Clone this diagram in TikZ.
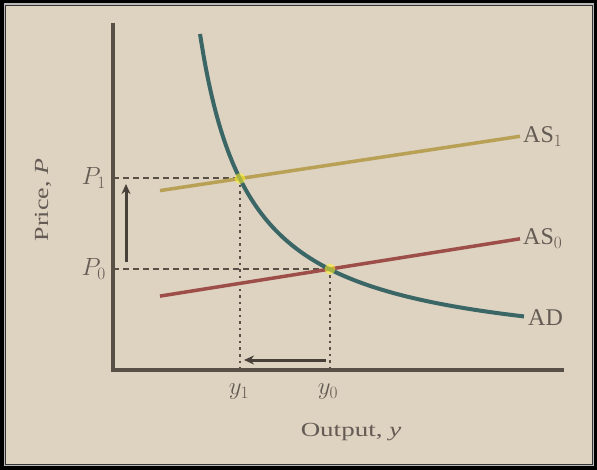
\documentclass[tikz,border=0pt]{standalone}
\usepackage{fontspec}
\setmainfont{Liberation Serif}
\usepackage{graphicx}
\usetikzlibrary{arrows.meta}
\definecolor{bg}{RGB}{222,210,193}
\definecolor{axisc}{RGB}{88,80,70}
\definecolor{adc}{RGB}{58,102,102}
\definecolor{asonec}{RGB}{184,160,84}
\definecolor{aszeroc}{RGB}{158,78,72}
\definecolor{txt}{RGB}{100,92,84}
\tikzset{
  axisline/.style={draw=axisc, line width=3.5pt},
  guide/.style={draw=axisc, line width=2pt, dash pattern=on 6pt off 4pt},
  dotguide/.style={draw=axisc, line width=2.2pt, dash pattern=on 2.5pt off 4pt},
  lbl/.style={text=txt, font=\fontsize{24}{26}\selectfont, inner sep=0pt},
  shiftarrow/.style={draw=axisc!80!black, line width=3pt, -{Stealth[length=10pt,width=9pt]}},
  eqglow/.style={circle, fill=yellow!85!white, opacity=0.55, minimum size=11pt, inner sep=0pt},
}
\begin{document}
\begin{tikzpicture}[x=1pt,y=-1pt]
\useasboundingbox (0,0) rectangle (597,470);
% frame
\fill[black] (0,0) rectangle (597,470);
\fill[gray!55] (3.5,3.5) rectangle (594,466);
\fill[black!80] (5,5) rectangle (592.5,464.5);
\fill[bg] (6,6) rectangle (591.5,463.5);
% key points
\coordinate (O) at (113,370);
\coordinate (ytop) at (113,23);
\coordinate (xend) at (564,370);
\coordinate (E1) at (240,178.5);
\coordinate (E0) at (330,269);
\coordinate (P1pt) at (113,178.5);
\coordinate (P0pt) at (113,269);
\coordinate (y1pt) at (240,370);
\coordinate (y0pt) at (330,370);
\coordinate (asonea) at (160,190.6);
\coordinate (asoneb) at (520,136.3);
\coordinate (aszeroa) at (160,296.1);
\coordinate (aszerob) at (520,238.8);
\coordinate (ua0) at (126,262);
\coordinate (ua1) at (126,184);
\coordinate (la0) at (326,360);
\coordinate (la1) at (244,360);
% guides
\draw[guide] (P1pt) -- (E1);
\draw[guide] (P0pt) -- (E0);
\draw[dotguide] (E1) -- (y1pt);
\draw[dotguide] (E0) -- (y0pt);
% axes
\draw[axisline] (ytop) -- (O) -- (xend);
% curves
\draw[draw=aszeroc, line width=3.5pt] (aszeroa) -- (aszerob);
\draw[draw=asonec, line width=3.5pt] (asonea) -- (asoneb);
\draw[draw=adc, line width=4pt] plot[domain=200:524, samples=90, smooth] (\x, {360-163/((\x-150)/100)});
\coordinate (adend) at (524,318);
% equilibrium highlights
\node[eqglow] (G1) at (E1) {};
\node[eqglow] (G0) at (E0) {};
% shift arrows
\draw[shiftarrow] (ua0) -- (ua1);
\draw[shiftarrow] (la0) -- (la1);
% labels
\node[lbl, anchor=west] (ASonel) at ([xshift=3pt]asoneb) {AS$_1$};
\node[lbl, anchor=west] (ASzerol) at ([xshift=3pt]aszerob) {AS$_0$};
\node[lbl, anchor=west] (ADl) at ([xshift=4pt]adend) {AD};
\node[lbl, anchor=east] (Ponel) at (106,178) {$P_1$};
\node[lbl, anchor=east] (Pzerol) at (106,269) {$P_0$};
\node[lbl] (yonel) at (239,392) {$y_1$};
\node[lbl] (yzerol) at (328,392) {$y_0$};
\node[lbl, rotate=90, font=\fontsize{20}{22}\selectfont] (pricel) at (43,200) {\scalebox{1.3}[1]{Price, \textit{P}}};
\node[lbl, font=\fontsize{20}{22}\selectfont] (outputl) at (351,432) {\scalebox{1.35}[1]{Output, \textit{y}}};
\end{tikzpicture}
\end{document}
